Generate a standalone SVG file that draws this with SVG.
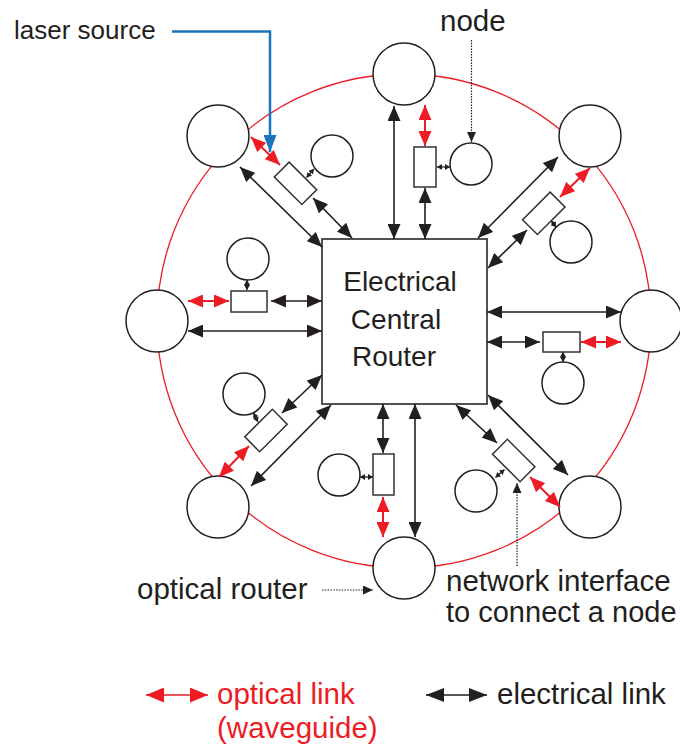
<svg xmlns="http://www.w3.org/2000/svg" width="680" height="745" viewBox="0 0 680 745">
  <style>
    .lbl { font-family: "Liberation Sans", Arial, sans-serif; fill: #231f20; }
    .ring { fill: none; stroke: #ed1c24; stroke-width: 1.3; }
    .orouter { fill: #fff; stroke: #231f20; stroke-width: 1.5; }
    .cpu { fill: #fff; stroke: #231f20; stroke-width: 1.5; }
    .ni { fill: #fff; stroke: #333; stroke-width: 1.5; }
    .router { fill: #fff; stroke: #404040; stroke-width: 1.8; }
    .elec { stroke: #231f20; stroke-width: 1.6; fill: none; marker-start: url(#ahK); marker-end: url(#ahK); }
    .opt { stroke: #ed1c24; stroke-width: 2; fill: none; marker-start: url(#ahR); marker-end: url(#ahR); }
    .tiny { stroke: #231f20; stroke-width: 1.3; fill: none; marker-start: url(#ahS); marker-end: url(#ahS); }
    .lead { stroke: #231f20; stroke-width: 1.2; stroke-dasharray: 1.5 1.3; fill: none; marker-end: url(#ahD); }
  </style>
  <defs>
    <marker id="ahK" markerUnits="userSpaceOnUse" viewBox="0 0 15 13" refX="15" refY="6.5" markerWidth="15" markerHeight="13" orient="auto-start-reverse">
      <path d="M0,0 L15,6.5 L0,13 z" fill="#231f20"/>
    </marker>
    <marker id="ahR" markerUnits="userSpaceOnUse" viewBox="0 0 15 13" refX="15" refY="6.5" markerWidth="15" markerHeight="13" orient="auto-start-reverse">
      <path d="M0,0 L15,6.5 L0,13 z" fill="#ed1c24"/>
    </marker>
    <marker id="ahS" markerUnits="userSpaceOnUse" viewBox="0 0 5 6" refX="5" refY="3" markerWidth="5" markerHeight="6" orient="auto-start-reverse">
      <path d="M0,0 L5,3 L0,6 z" fill="#231f20"/>
    </marker>
    <marker id="ahD" markerUnits="userSpaceOnUse" viewBox="0 0 10 9" refX="10" refY="4.5" markerWidth="10" markerHeight="9" orient="auto">
      <path d="M0,0 L10,4.5 L0,9 z" fill="#231f20"/>
    </marker>
    <marker id="ahB" markerUnits="userSpaceOnUse" viewBox="0 0 17 13" refX="17" refY="6.5" markerWidth="17" markerHeight="13" orient="auto">
      <path d="M0,0 L17,6.5 L0,13 z" fill="#1b75bc"/>
    </marker>
    <marker id="lgR" markerUnits="userSpaceOnUse" viewBox="0 0 18 15" refX="18" refY="7.5" markerWidth="18" markerHeight="15" orient="auto-start-reverse">
      <path d="M0,0 L18,7.5 L0,15 z" fill="#ed1c24"/>
    </marker>
    <marker id="lgK" markerUnits="userSpaceOnUse" viewBox="0 0 18 14" refX="18" refY="7" markerWidth="18" markerHeight="14" orient="auto-start-reverse">
      <path d="M0,0 L18,7 L0,14 z" fill="#231f20"/>
    </marker>
  </defs>

  <!-- optical ring (waveguide) -->
  <circle id="ring" class="ring" cx="404" cy="321" r="247"/>

  <!-- electrical central router -->
  <g id="central-router">
    <rect class="router" x="322" y="239" width="165" height="165"/>
    <text class="lbl" font-size="28" text-anchor="middle" x="400" y="291">Electrical</text>
    <text class="lbl" font-size="28" text-anchor="middle" x="396" y="329">Central</text>
    <text class="lbl" font-size="28" text-anchor="middle" x="394" y="366">Router</text>
  </g>

  <!-- optical routers on the ring -->
  <g id="or-top"><circle class="orouter" cx="404" cy="74" r="31"/></g>
  <g id="or-top-right"><circle class="orouter" cx="590" cy="136" r="31"/></g>
  <g id="or-right"><circle class="orouter" cx="651" cy="321" r="31"/></g>
  <g id="or-bottom-right"><circle class="orouter" cx="590" cy="507" r="31"/></g>
  <g id="or-bottom"><circle class="orouter" cx="404" cy="568" r="31"/></g>
  <g id="or-bottom-left"><circle class="orouter" cx="218" cy="507" r="31"/></g>
  <g id="or-left"><circle class="orouter" cx="157" cy="321" r="31"/></g>
  <g id="or-top-left"><circle class="orouter" cx="218" cy="136" r="31"/></g>

  <!-- processing nodes -->
  <g id="node-top"><circle class="cpu" cx="471" cy="164" r="21"/></g>
  <g id="node-top-right"><circle class="cpu" cx="571" cy="242" r="21"/></g>
  <g id="node-right"><circle class="cpu" cx="563" cy="383" r="21"/></g>
  <g id="node-bottom-right"><circle class="cpu" cx="476" cy="491" r="21"/></g>
  <g id="node-bottom"><circle class="cpu" cx="339" cy="475" r="21"/></g>
  <g id="node-bottom-left"><circle class="cpu" cx="244" cy="394" r="21"/></g>
  <g id="node-left"><circle class="cpu" cx="248" cy="259" r="21"/></g>
  <g id="node-top-left"><circle class="cpu" cx="332" cy="156" r="21"/></g>

  <!-- network interfaces -->
  <g id="ni-top"><rect class="ni" x="414" y="147" width="22" height="40"/></g>
  <g id="ni-top-right"><rect class="ni" x="-19.5" y="-10.5" width="39" height="21" transform="translate(543.8 213.3) rotate(-45)"/></g>
  <g id="ni-right"><rect class="ni" x="543" y="332" width="37" height="20"/></g>
  <g id="ni-bottom-right"><rect class="ni" x="-19.5" y="-10.5" width="39" height="21" transform="translate(513.7 460.5) rotate(45)"/></g>
  <g id="ni-bottom"><rect class="ni" x="373" y="454" width="21" height="41"/></g>
  <g id="ni-bottom-left"><rect class="ni" x="-19.5" y="-10.5" width="39" height="21" transform="translate(266 430.5) rotate(-45)"/></g>
  <g id="ni-left"><rect class="ni" x="231" y="291" width="36" height="21"/></g>
  <g id="ni-top-left"><rect class="ni" x="-19.5" y="-10.5" width="39" height="21" transform="translate(295.5 183.3) rotate(45)"/></g>

  <g id="connectors">
    <!-- electrical links -->
    <line class="elec" x1="394" y1="106" x2="394" y2="239"/>
    <line class="elec" x1="425" y1="188" x2="425" y2="239"/>
    <line class="elec" x1="558" y1="157" x2="478" y2="238"/>
    <line class="elec" x1="527" y1="230" x2="488" y2="268"/>
    <line class="elec" x1="240" y1="167" x2="322" y2="247"/>
    <line class="elec" x1="313" y1="198" x2="352" y2="238"/>
    <line class="elec" x1="188" y1="331" x2="322" y2="331"/>
    <line class="elec" x1="271" y1="301" x2="322" y2="301"/>
    <line class="elec" x1="487" y1="312" x2="621" y2="312"/>
    <line class="elec" x1="487" y1="342" x2="540" y2="342"/>
    <line class="elec" x1="282" y1="413" x2="322" y2="375"/>
    <line class="elec" x1="251" y1="486" x2="331" y2="405"/>
    <line class="elec" x1="415" y1="404" x2="415" y2="537"/>
    <line class="elec" x1="383" y1="404" x2="383" y2="453"/>
    <line class="elec" x1="488" y1="395" x2="568" y2="475"/>
    <line class="elec" x1="456" y1="405" x2="497" y2="443"/>

    <!-- optical links -->
    <line class="opt" x1="425" y1="105" x2="425" y2="146"/>
    <line class="opt" x1="251" y1="137" x2="280" y2="165"/>
    <line class="opt" x1="560" y1="197" x2="590" y2="168"/>
    <line class="opt" x1="188" y1="301" x2="229" y2="301"/>
    <line class="opt" x1="581" y1="342" x2="621" y2="342"/>
    <line class="opt" x1="249" y1="446" x2="219" y2="477"/>
    <line class="opt" x1="383" y1="497" x2="383" y2="537"/>
    <line class="opt" x1="530" y1="477" x2="560" y2="507"/>

    <!-- interface to node links -->
    <line class="tiny" x1="437" y1="167" x2="450" y2="167"/>
    <line class="tiny" x1="306.5" y1="177.5" x2="314" y2="169"/>
    <line class="tiny" x1="551.2" y1="220.7" x2="556.2" y2="227.2"/>
    <line class="tiny" x1="247" y1="280" x2="247" y2="290"/>
    <line class="tiny" x1="563" y1="352" x2="563" y2="362"/>
    <line class="tiny" x1="258" y1="422" x2="253.5" y2="413"/>
    <line class="tiny" x1="360" y1="477" x2="373" y2="477"/>
    <line class="tiny" x1="504.5" y1="469.5" x2="495.5" y2="477.5"/>

    <!-- label leaders -->
    <path d="M172,31.5 H270 V152" fill="none" stroke="#1b75bc" stroke-width="2.5" marker-end="url(#ahB)"/>
    <line class="lead" x1="471.5" y1="40" x2="471.5" y2="142"/>
    <line class="lead" x1="322" y1="590" x2="373" y2="590"/>
    <line class="lead" x1="517" y1="566" x2="517" y2="483"/>
  </g>

  <!-- annotations -->
  <text class="lbl" font-size="26" x="14" y="39">laser source</text>
  <text class="lbl" font-size="29.5" x="440" y="31">node</text>
  <text class="lbl" font-size="29.5" x="137" y="599">optical router</text>
  <text class="lbl" font-size="29.5" x="446" y="591">network interface</text>
  <text class="lbl" font-size="29" x="446" y="622">to connect a node</text>

  <!-- legend -->
  <g id="legend">
    <line x1="146" y1="695" x2="208" y2="695" stroke="#ed1c24" stroke-width="1.5" marker-start="url(#lgR)" marker-end="url(#lgR)"/>
    <text class="lbl" font-size="29.5" x="217" y="704" style="fill:#ed1c24">optical link</text>
    <text class="lbl" font-size="29.5" x="217" y="738" style="fill:#ed1c24">(waveguide)</text>
    <line x1="426" y1="695" x2="487" y2="695" stroke="#231f20" stroke-width="1.5" marker-start="url(#lgK)" marker-end="url(#lgK)"/>
    <text class="lbl" font-size="29.5" x="497" y="704">electrical link</text>
  </g>
</svg>
